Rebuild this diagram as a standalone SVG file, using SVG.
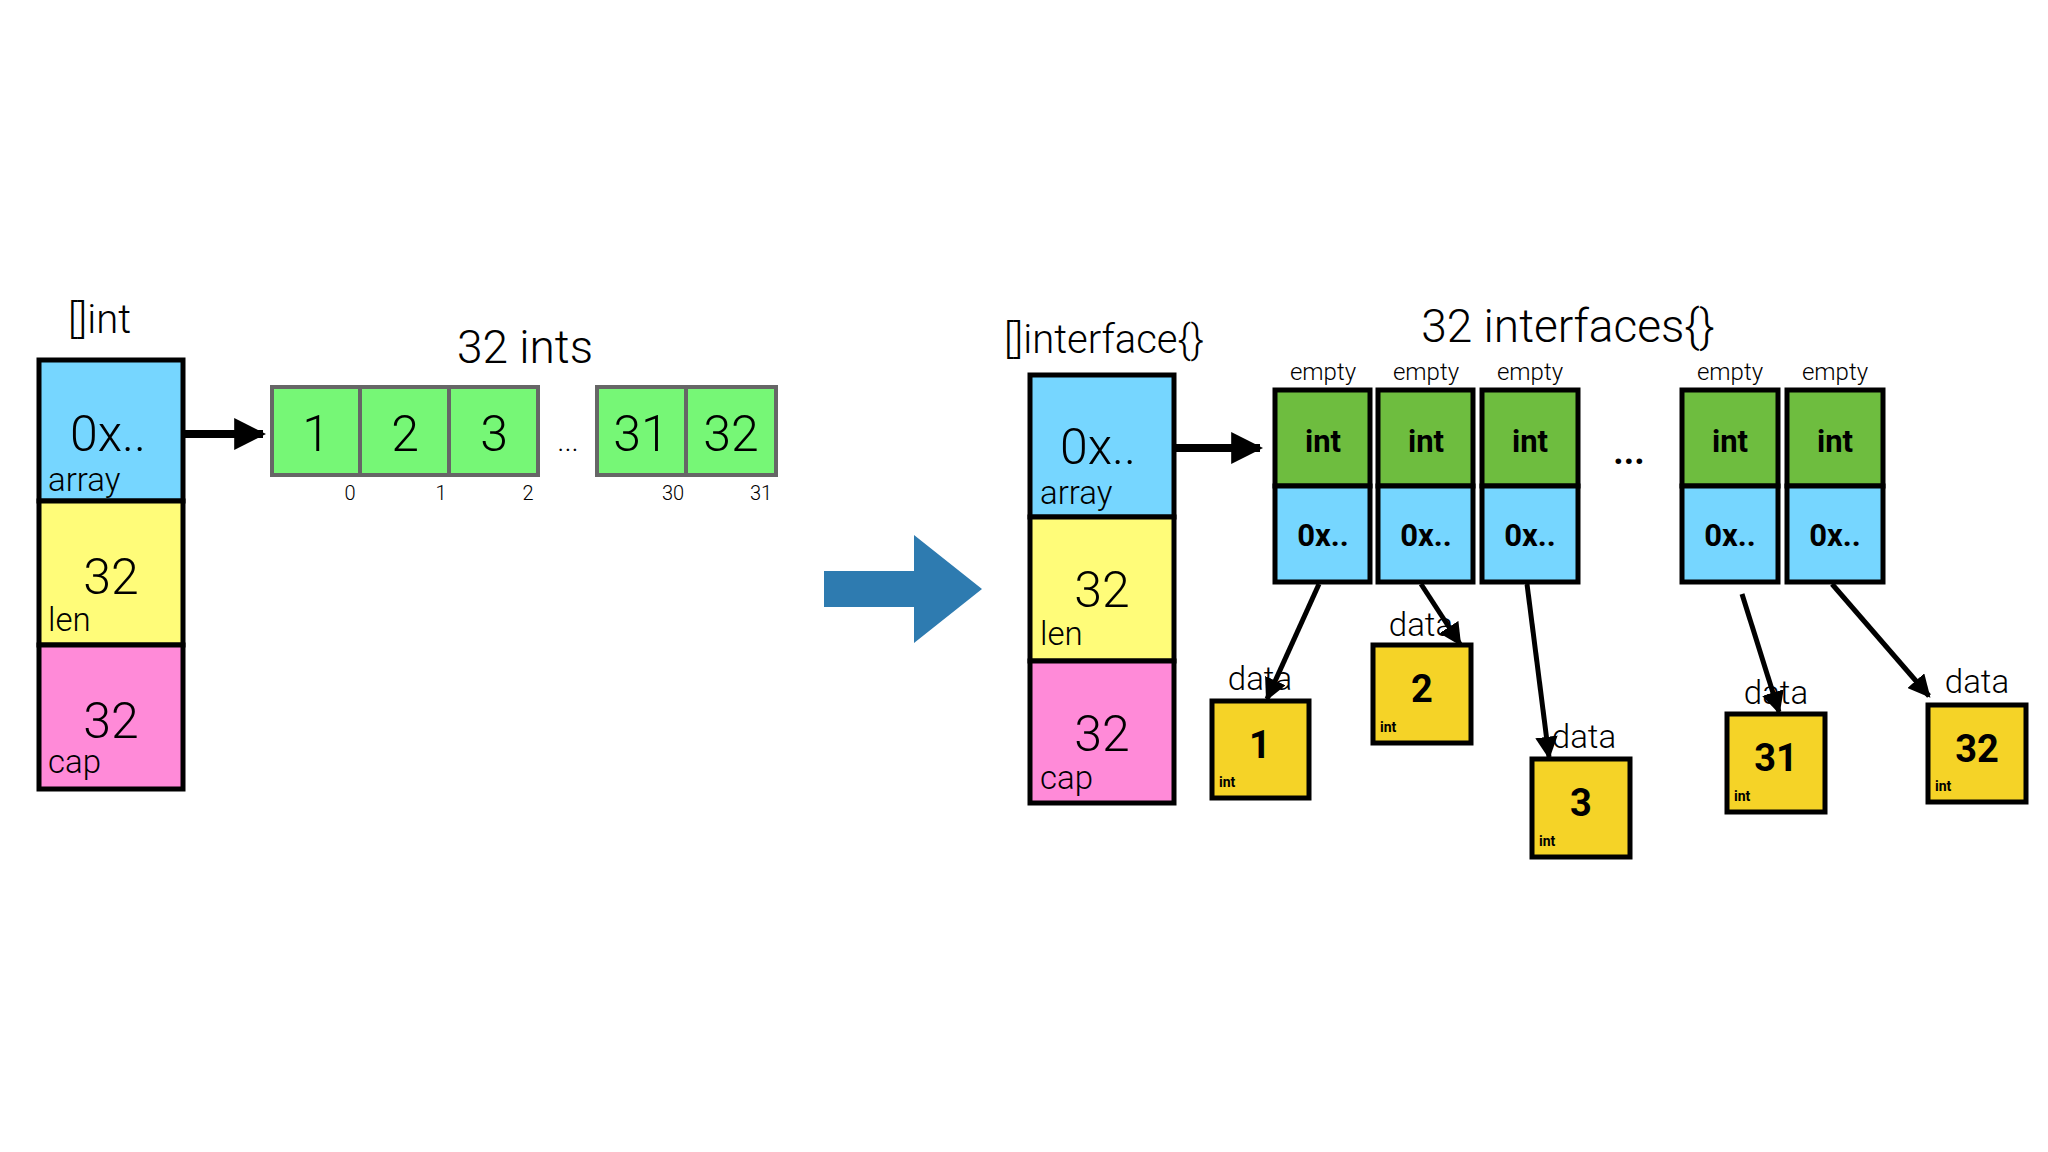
<svg xmlns="http://www.w3.org/2000/svg" width="2048" height="1152" viewBox="0 0 2048 1152">
<defs>
<marker id="ah" viewBox="0 0 10 10" refX="9" refY="5" markerWidth="4.5" markerHeight="4.5" orient="auto" markerUnits="strokeWidth"><path d="M0,0 L10,5 L0,10 z" fill="#000"/></marker>
<marker id="ah2" viewBox="0 0 10 10" refX="9" refY="5" markerWidth="4" markerHeight="4" orient="auto" markerUnits="strokeWidth"><path d="M0,0 L10,5 L0,10 z" fill="#000"/></marker>
<style>
text{font-family:Roboto,"Liberation Sans",sans-serif;font-weight:300;fill:#000}
.b{fill:#76D6FF;stroke:#000;stroke-width:5}
.y{fill:#FFFC79;stroke:#000;stroke-width:5}
.p{fill:#FF8AD8;stroke:#000;stroke-width:5}
.g{fill:#76F776;stroke:#666;stroke-width:4}
.dg{fill:#6EBD3F;stroke:#000;stroke-width:5}
.d{fill:#F5D327;stroke:#000;stroke-width:5}
.big{font-size:50px}
.lab{font-size:33px}
.t{font-size:46px}
.idx{font-size:20px}
.e{font-size:24px}
.bd{font-weight:700;font-size:31px}
.num{font-weight:700;font-size:38px}
.sm{font-weight:700;font-size:14px}
.m{text-anchor:middle}
.c{stroke:#000;stroke-width:5;fill:none;marker-end:url(#ah)}
.h{stroke:#000;stroke-width:8;fill:none;marker-end:url(#ah2)}
</style>
</defs>
<rect width="2048" height="1152" fill="#fff"/>
<g id="slice-int">
<text x="68" y="333" style="font-size:40px">[]int</text>
<rect class="b" x="39" y="360" width="144" height="141"/>
<rect class="y" x="39" y="501" width="144" height="144"/>
<rect class="p" x="39" y="645" width="144" height="144"/>
<text x="70" y="451" class="big">0x..</text>
<text x="48" y="491" class="lab">array</text>
<text x="111" y="594" class="big m">32</text>
<text x="48" y="631" class="lab">len</text>
<text x="111" y="738" class="big m">32</text>
<text x="48" y="773" class="lab">cap</text>
</g>
<g id="ints">
<text x="525" y="363" class="t m">32 ints</text>
<rect class="g" x="272" y="387" width="88" height="88"/>
<rect class="g" x="360" y="387" width="89" height="88"/>
<rect class="g" x="449" y="387" width="89" height="88"/>
<rect class="g" x="597" y="387" width="89" height="88"/>
<rect class="g" x="686" y="387" width="90" height="88"/>
<text x="316" y="451" class="big m">1</text>
<text x="405" y="451" class="big m">2</text>
<text x="494" y="451" class="big m">3</text>
<text x="641" y="451" class="big m">31</text>
<text x="731" y="451" class="big m">32</text>
<text x="568" y="451" class="m" style="font-size:30px">...</text>
<text x="350" y="500" class="idx m">0</text>
<text x="441" y="500" class="idx m">1</text>
<text x="528" y="500" class="idx m">2</text>
<text x="673" y="500" class="idx m">30</text>
<text x="761" y="500" class="idx m">31</text>
</g>
<g id="transform-arrow">
<path d="M824,571 H914 V535 L982,589 L914,643 V607 H824 z" fill="#2E7BB0"/>
</g>
<g id="slice-iface">
<text x="1104" y="353" class="m" style="font-size:40px">[]interface{}</text>
<rect class="b" x="1030" y="375" width="144" height="142"/>
<rect class="y" x="1030" y="517" width="144" height="144"/>
<rect class="p" x="1030" y="661" width="144" height="142"/>
<text x="1060" y="464" class="big">0x..</text>
<text x="1040" y="504" class="lab">array</text>
<text x="1102" y="607" class="big m">32</text>
<text x="1040" y="645" class="lab">len</text>
<text x="1102" y="751" class="big m">32</text>
<text x="1040" y="789" class="lab">cap</text>
</g>
<g id="ifaces">
<text x="1568" y="342" class="t m">32 interfaces{}</text>
<text x="1629" y="464" class="m" style="font-size:36px;font-weight:700">...</text>
<g id="if0"><text x="1323" y="380" class="e m">empty</text><rect class="dg" x="1275" y="390" width="95" height="96"/><rect class="b" x="1275" y="486" width="95" height="96"/><text x="1323" y="452" class="bd m">int</text><text x="1323" y="546" class="bd m">0x..</text></g>
<g id="if1"><text x="1426" y="380" class="e m">empty</text><rect class="dg" x="1378" y="390" width="95" height="96"/><rect class="b" x="1378" y="486" width="95" height="96"/><text x="1426" y="452" class="bd m">int</text><text x="1426" y="546" class="bd m">0x..</text></g>
<g id="if2"><text x="1530" y="380" class="e m">empty</text><rect class="dg" x="1482" y="390" width="96" height="96"/><rect class="b" x="1482" y="486" width="96" height="96"/><text x="1530" y="452" class="bd m">int</text><text x="1530" y="546" class="bd m">0x..</text></g>
<g id="if30"><text x="1730" y="380" class="e m">empty</text><rect class="dg" x="1682" y="390" width="96" height="96"/><rect class="b" x="1682" y="486" width="96" height="96"/><text x="1730" y="452" class="bd m">int</text><text x="1730" y="546" class="bd m">0x..</text></g>
<g id="if31"><text x="1835" y="380" class="e m">empty</text><rect class="dg" x="1787" y="390" width="96" height="96"/><rect class="b" x="1787" y="486" width="96" height="96"/><text x="1835" y="452" class="bd m">int</text><text x="1835" y="546" class="bd m">0x..</text></g>
</g>
<g id="data">
<g id="d1"><rect class="d" x="1212" y="701" width="97" height="97"/><text x="1260" y="758" class="num m">1</text><text x="1219" y="787" class="sm">int</text></g>
<g id="d2"><rect class="d" x="1373" y="645" width="98" height="98"/><text x="1422" y="702" class="num m">2</text><text x="1380" y="732" class="sm">int</text></g>
<g id="d3"><rect class="d" x="1532" y="759" width="98" height="98"/><text x="1581" y="816" class="num m">3</text><text x="1539" y="846" class="sm">int</text></g>
<g id="d31"><rect class="d" x="1727" y="714" width="98" height="98"/><text x="1776" y="771" class="num m">31</text><text x="1734" y="801" class="sm">int</text></g>
<g id="d32"><rect class="d" x="1928" y="705" width="98" height="97"/><text x="1977" y="762" class="num m">32</text><text x="1935" y="791" class="sm">int</text></g>
<text x="1260" y="690" class="lab m">data</text>
<text x="1421" y="636" class="lab m">data</text>
<text x="1584" y="748" class="lab m">data</text>
<text x="1776" y="704" class="lab m">data</text>
<text x="1977" y="693" class="lab m">data</text>
</g>
<g id="connectors">
<line class="h" x1="183" y1="434" x2="263" y2="434"/>
<line class="h" x1="1174" y1="448" x2="1260" y2="448"/>
<line class="c" x1="1319" y1="584" x2="1267" y2="699"/>
<line class="c" x1="1421" y1="584" x2="1460" y2="644"/>
<line class="c" x1="1527" y1="584" x2="1549" y2="757"/>
<line class="c" x1="1742" y1="594" x2="1779" y2="712"/>
<line class="c" x1="1832" y1="584" x2="1929" y2="696"/>
</g>
</svg>
